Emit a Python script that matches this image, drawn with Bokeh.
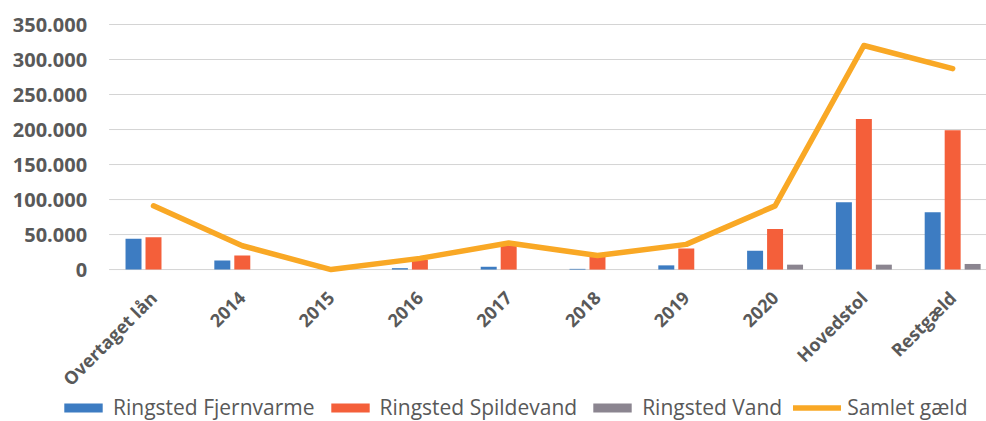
import numpy as np
from bokeh.plotting import figure
from bokeh.models import Range1d, Legend, LegendItem
from bokeh.core.properties import value
from bokeh.embed import file_html
from bokeh.resources import INLINE

categories = ["Overtaget lån", "2014", "2015", "2016", "2017", "2018", "2019", "2020", "Hovedstol", "Restgæld"]
fjernvarme = [44000, 13000, 0, 2000, 4000, 1000, 6000, 27000, 96000, 82000]
spildevand = [46000, 20000, 0, 14000, 34000, 18000, 30000, 58000, 215000, 199000]
vand = [0, 0, 0, 0, 0, 0, 0, 7000, 7000, 8000]
samlet = [91000, 34000, 0, 16000, 38000, 20000, 36000, 91000, 320000, 287000]
y_ticks = [0, 50000, 100000, 150000, 200000, 250000, 300000, 350000]
y_tick_labels = ["0", "50.000", "100.000", "150.000", "200.000", "250.000", "300.000", "350.000"]
series_names = ["Ringsted Fjernvarme", "Ringsted Spildevand", "Ringsted Vand", "Samlet gæld"]

FONT = "Open Sans"
TXT = "#595959"
colors = ["#3d7cc2", "#f45f3a", "#8b8590", "#f9a825"]

x = np.arange(len(categories))
X_START, X_END = -1.723, 9.381
Y_START, Y_END = -217000, 384300

p = figure(width=986, height=421, output_backend="svg", toolbar_location=None,
           x_range=Range1d(X_START, X_END), y_range=Range1d(Y_START, Y_END),
           min_border_left=0, min_border_top=0, min_border_right=0, min_border_bottom=0,
           outline_line_color=None)
p.xaxis.visible = False
p.yaxis.visible = False
p.xgrid.grid_line_color = None
p.ygrid.grid_line_color = None

# horizontal gridlines over the category area
p.segment(x0=-0.5, x1=X_END, y0=y_ticks, y1=y_ticks, line_color="#d4d4d4", line_width=1)

off = 0.225
w = 0.18
r1 = p.vbar(x=x - off, top=fjernvarme, width=w, color=colors[0], line_alpha=0)
r2 = p.vbar(x=x, top=spildevand, width=w, color=colors[1], line_alpha=0)
r3 = p.vbar(x=x + off, top=vand, width=w, color=colors[2], line_alpha=0)
r4 = p.line(x=x, y=samlet, line_width=5.5, color=colors[3], line_join="round", line_cap="round")

# value axis labels
p.text(x=np.full(len(y_ticks), -0.5), y=y_ticks, text=y_tick_labels, text_align="right",
       text_baseline="middle", x_offset=-22, text_font=value(FONT),
       text_font_size="20px", text_font_style="bold", text_color=TXT)

# category axis labels (rotated 45 degrees)
p.text(x=x, y=np.zeros(len(x)), text=categories, angle=np.pi / 4, text_align="right",
       text_baseline="middle", x_offset=0, y_offset=25, text_font=value(FONT),
       text_font_size="18px", text_font_style="bold", text_color=TXT)

legend = Legend(items=[LegendItem(label=series_names[0], renderers=[r1]),
                       LegendItem(label=series_names[1], renderers=[r2]),
                       LegendItem(label=series_names[2], renderers=[r3]),
                       LegendItem(label=series_names[3], renderers=[r4])],
                orientation="horizontal", location=(59, 0),
                glyph_width=48, glyph_height=11, label_text_font=FONT,
                label_text_font_size="21px", label_text_color=TXT,
                spacing=11, label_standoff=6, border_line_color=None,
                background_fill_alpha=0, margin=0, padding=0)
p.add_layout(legend, "center")

open("out.html", "w").write(file_html(p, INLINE))
